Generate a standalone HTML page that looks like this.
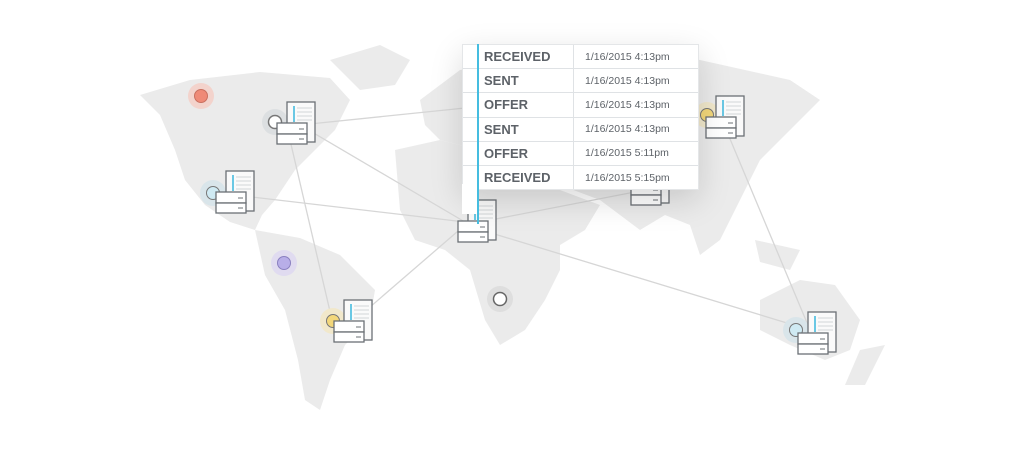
<!DOCTYPE html>
<html><head><style>
body{margin:0;width:1024px;height:474px;background:#fff;overflow:hidden;position:relative;font-family:"Liberation Sans",sans-serif}
svg{position:absolute;left:0;top:0}
.tip{position:absolute;left:462px;top:44px;width:235px;background:#fff;box-shadow:0 10px 30px rgba(0,0,0,.15);border:1px solid #e4e6e8}
.row{height:23.2px;border-bottom:1px solid #dfe2e5;display:flex;align-items:center}
.a{padding-left:21px;font-weight:bold;font-size:13px;color:#5d6268;border-right:1px solid #dfe2e5;height:100%;display:flex;align-items:center;box-sizing:border-box;width:111px}
.b{padding-left:11px;font-size:10.5px;color:#5d6268}
</style></head><body>
<svg width="1024" height="474">
<g fill="#ebebeb">
<path d="M140 95 L190 80 L260 72 L330 78 L350 100 L335 130 L315 150 L295 170 L275 200 L262 215 L255 230 L230 222 L205 205 L185 180 L175 150 L160 115 Z"/>
<path d="M255 230 L300 238 L340 255 L375 290 L370 320 L345 345 L330 380 L320 410 L305 400 L298 360 L285 310 L265 275 Z"/>
<path d="M330 60 L380 45 L410 60 L395 85 L360 90 Z"/>
<path d="M395 150 L440 140 L480 150 L510 165 L560 190 L600 205 L585 230 L560 245 L560 270 L545 300 L525 330 L500 345 L485 320 L470 270 L445 250 L415 240 L400 210 Z"/>
<path d="M420 100 L460 70 L520 60 L600 50 L700 60 L790 80 L820 100 L790 130 L760 160 L740 200 L720 240 L700 255 L690 225 L665 215 L640 230 L620 215 L600 200 L560 185 L520 165 L480 150 L440 140 L425 125 Z"/>
<path d="M760 300 L800 280 L835 285 L860 320 L850 350 L825 360 L790 345 L760 330 Z"/>
<path d="M860 350 L885 345 L865 385 L845 385 Z"/>
<path d="M755 240 L800 250 L790 270 L760 262 Z"/>
</g>
<g stroke="#d6d6d6" stroke-width="1.3" fill="none">
<line x1="300" y1="125" x2="465" y2="108"/>
<line x1="300" y1="125" x2="470" y2="225"/>
<line x1="290" y1="140" x2="332" y2="320"/>
<line x1="235" y1="195" x2="465" y2="222"/>
<line x1="355" y1="320" x2="465" y2="225"/>
<line x1="465" y1="225" x2="645" y2="190"/>
<line x1="465" y1="225" x2="810" y2="330"/>
<line x1="720" y1="115" x2="810" y2="330"/>
</g>
<g>
<circle cx="201" cy="96" r="13" fill="#f3d3cc"/><circle cx="201" cy="96" r="6.5" fill="#ef8a77" stroke="#c97060"/>
<circle cx="275" cy="122" r="13" fill="#dcdfe1"/><circle cx="275" cy="122" r="6.5" fill="#fff" stroke="#777" stroke-width="1.5"/>
<circle cx="213" cy="193" r="13" fill="#d9e5ea"/><circle cx="213" cy="193" r="6.5" fill="#cfeaf3" stroke="#777"/>
<circle cx="284" cy="263" r="13" fill="#e0dbf0"/><circle cx="284" cy="263" r="6.5" fill="#b8aee8" stroke="#8a80c0"/>
<circle cx="333" cy="321" r="13" fill="#f1e8cb"/><circle cx="333" cy="321" r="6.5" fill="#f3d77a" stroke="#777"/>
<circle cx="500" cy="299" r="13" fill="#dedede"/><circle cx="500" cy="299" r="6.5" fill="#fff" stroke="#666" stroke-width="1.5"/>
<circle cx="707" cy="115" r="13" fill="#f1e8cb"/><circle cx="707" cy="115" r="6.5" fill="#f3d77a" stroke="#777"/>
<circle cx="796" cy="330" r="13" fill="#d9e5ea"/><circle cx="796" cy="330" r="6.5" fill="#cfeaf3" stroke="#777"/>
</g>
<defs><g id="ic">
<rect x="10" y="0" width="28" height="40" fill="#fafafa" stroke="#6b7075" stroke-width="1.3"/>
<line x1="17" y1="4" x2="17" y2="20" stroke="#3bb8dc" stroke-width="1.5"/>
<g stroke="#c9cdd0" stroke-width=".8"><line x1="20" y1="6" x2="35" y2="6"/><line x1="20" y1="10" x2="35" y2="10"/><line x1="20" y1="14" x2="35" y2="14"/><line x1="20" y1="18" x2="35" y2="18"/></g>
<rect x="0" y="21" width="30" height="11" fill="#fff" stroke="#6b7075" stroke-width="1.3"/>
<rect x="0" y="32" width="30" height="10" fill="#fff" stroke="#6b7075" stroke-width="1.3"/>
<line x1="22" y1="27" x2="27" y2="27" stroke="#6b7075"/><line x1="22" y1="37" x2="27" y2="37" stroke="#6b7075"/>
</g></defs>
<use href="#ic" x="277" y="102"/>
<use href="#ic" x="216" y="171"/>
<use href="#ic" x="458" y="200"/>
<use href="#ic" x="334" y="300"/>
<use href="#ic" x="706" y="96"/>
<use href="#ic" x="631" y="163"/>
<use href="#ic" x="798" y="312"/>
</svg>
<div class="tip">
<div class="row"><div class="a">RECEIVED</div><div class="b">1/16/2015 4:13pm</div></div>
<div class="row"><div class="a">SENT</div><div class="b">1/16/2015 4:13pm</div></div>
<div class="row"><div class="a">OFFER</div><div class="b">1/16/2015 4:13pm</div></div>
<div class="row"><div class="a">SENT</div><div class="b">1/16/2015 4:13pm</div></div>
<div class="row"><div class="a">OFFER</div><div class="b">1/16/2015 5:11pm</div></div>
<div class="row" style="border-bottom:none"><div class="a">RECEIVED</div><div class="b">1/16/2015 5:15pm</div></div>
</div>
<div style="position:absolute;left:462px;top:184px;width:15px;height:30px;background:#fff"></div>
<div style="position:absolute;left:477px;top:44px;width:1.5px;height:180px;background:#45bde0"></div>
</body></html>
